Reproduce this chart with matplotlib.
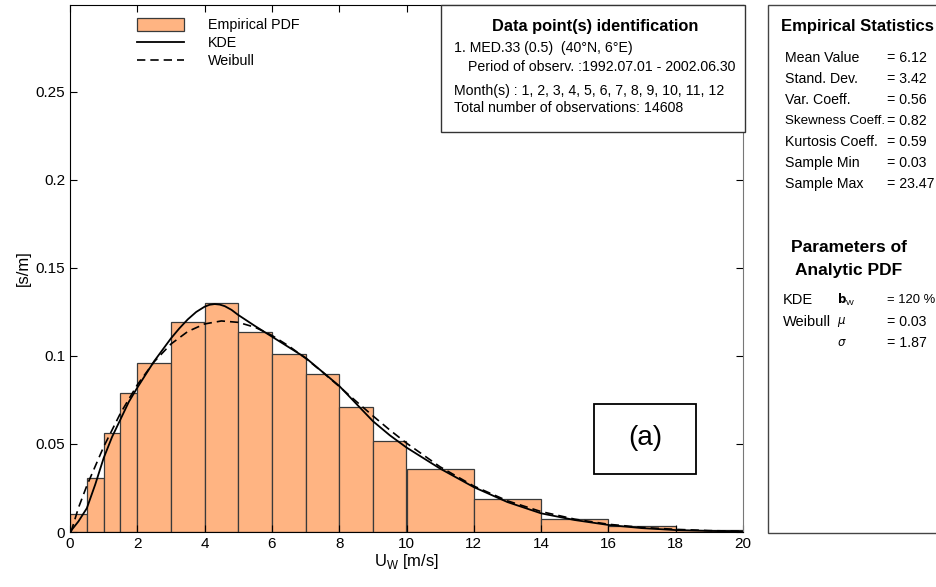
import matplotlib
matplotlib.use("Agg")
import matplotlib.pyplot as plt
from matplotlib.patches import Rectangle
import numpy as np

plt.rcParams['font.family'] = ['Liberation Sans', 'DejaVu Sans']

# histogram (empirical pdf)
bin_edges = [0, 0.5, 1, 1.5, 2, 3, 4, 5, 6, 7, 8, 9, 10, 12, 14, 16, 18, 20]
pdf_vals = [0.0102, 0.0305, 0.056, 0.0788, 0.0958, 0.1193, 0.130, 0.1134,
            0.1013, 0.0898, 0.0712, 0.0519, 0.0356, 0.0186, 0.0076, 0.0034, 0.0009]

# KDE curve
kde_x = [0, 0.25, 0.5, 0.75, 1.0, 1.25, 1.5, 1.75, 2.0, 2.5, 3.0, 3.25, 3.5, 3.75,
         4.0, 4.15, 4.3, 4.45, 4.6, 4.8, 5.0, 5.5, 6.0, 6.5, 7.0, 7.5, 8.0, 8.5,
         9.0, 9.5, 10, 10.5, 11, 12, 13, 14, 15, 16, 17, 18, 19, 20]
kde_y = [0, 0.006, 0.0135, 0.027, 0.042, 0.054, 0.064, 0.074, 0.082, 0.097,
         0.110, 0.1157, 0.1208, 0.1250, 0.1280, 0.1291, 0.1295, 0.1292, 0.1283,
         0.1262, 0.1233, 0.117, 0.111, 0.105, 0.099, 0.091, 0.083, 0.073,
         0.063, 0.055, 0.048, 0.042, 0.036, 0.0255, 0.017, 0.0106, 0.0068,
         0.004, 0.0022, 0.0011, 0.0006, 0.0003]

# Weibull curve
wb_x = [0.03, 0.25, 0.5, 1.0, 1.5, 2.0, 2.5, 3.0, 3.5, 4.0, 4.5, 5.0, 5.5, 6.0,
        6.5, 7.0, 7.5, 8.0, 8.5, 9.0, 9.5, 10, 11, 12, 13, 14, 15, 16, 17, 18, 19, 20]
wb_y = [0, 0.0137, 0.0263, 0.0484, 0.0675, 0.0836, 0.0967, 0.1068, 0.1139,
        0.1182, 0.1199, 0.1191, 0.1163, 0.1117, 0.1057, 0.0987, 0.0909, 0.0827,
        0.0743, 0.0660, 0.0580, 0.0505, 0.0370, 0.0261, 0.0177, 0.0116, 0.0073,
        0.0044, 0.0026, 0.0015, 0.0008, 0.0004]

yticks = [0, 0.05, 0.1, 0.15, 0.2, 0.25]
ytick_labels = ['0', '0.05', '0.1', '0.15', '0.2', '0.25']
xticks = list(range(0, 21, 2))

stats_names = ['Mean Value', 'Stand. Dev.', 'Var. Coeff.', 'Skewness Coeff.',
               'Kurtosis Coeff.', 'Sample Min', 'Sample Max']
stats_vals = ['= 6.12', '= 3.42', '= 0.56', '= 0.82', '= 0.59', '= 0.03', '= 23.47']

W, H = 936, 587
fig = plt.figure(figsize=(9.36, 5.87), dpi=100)
ax = fig.add_axes([70/W, 55/H, 673/W, 527/H])

edges = np.array(bin_edges)
bars = ax.bar(edges[:-1], pdf_vals, width=np.diff(edges), align='edge',
              color='#FFB482', edgecolor='#3a3a3a', linewidth=0.9, label='Empirical PDF')
kde_line, = ax.plot(kde_x, kde_y, color='black', lw=1.3, label='KDE')
wb_line, = ax.plot(wb_x, wb_y, color='black', lw=1.2, ls=(0, (5, 3)), label='Weibull')

ax.set_xlim(0, 20)
ax.set_ylim(0, 0.2994)
ax.set_xticks(xticks)
ax.set_yticks(yticks)
ax.set_yticklabels(ytick_labels)
ax.tick_params(direction='in', length=5, top=True, right=True, labelsize=11)
ax.set_xlabel(r'U$_\mathregular{W}$ [m/s]', fontsize=12, labelpad=1)
ax.set_ylabel('[s/m]', fontsize=12, labelpad=3)
ax.spines['right'].set_color('#777777')

ax.legend(handles=[bars, kde_line, wb_line], loc='upper left',
          bbox_to_anchor=(0.076, 1.005), frameon=False,
          fontsize=10.3, handlelength=3.3, handleheight=1.0, labelspacing=0.25,
          handletextpad=1.65, borderpad=0.6)

# "(a)" box
ax.add_patch(Rectangle((15.57, 0.033), 3.03, 0.0397, fc='white', ec='black', lw=1.3, zorder=5))
ax.text(17.09, 0.0535, '(a)', fontsize=20, ha='center', va='center', zorder=6)

# data point identification box
fig.patches.append(Rectangle((441/W, 455/H), 304/W, 127/H, transform=fig.transFigure,
                             fc='white', ec='#333333', lw=1, zorder=3))
fig.text(595/W, 1 - 27/H, 'Data point(s) identification', ha='center', va='center',
         fontsize=11.8, fontweight='bold', zorder=4)
lines = [(454, 48, '1. MED.33 (0.5)  (40°N, 6°E)'),
         (468, 67, 'Period of observ. :1992.07.01 - 2002.06.30'),
         (454, 91, 'Month(s) : 1, 2, 3, 4, 5, 6, 7, 8, 9, 10, 11, 12'),
         (454, 108, 'Total number of observations: 14608')]
for x, y, s in lines:
    fig.text(x/W, 1 - y/H, s, ha='left', va='center', fontsize=10.2, zorder=4)

# right statistics panel
fig.patches.append(Rectangle((768/W, 54/H), 0.3, 528/H, transform=fig.transFigure,
                             fc='white', ec='#444444', lw=1, zorder=3))
fig.text(781/W, 1 - 27/H, 'Empirical Statistics', ha='left', va='center',
         fontsize=12, fontweight='bold', zorder=4)
for i, (n, v) in enumerate(zip(stats_names, stats_vals)):
    y = 58 + i * 21
    fs = 9.6 if n.startswith('Skew') else 10.2
    fig.text(785/W, 1 - y/H, n, ha='left', va='center', fontsize=fs, zorder=4)
    fig.text(887/W, 1 - y/H, v, ha='left', va='center', fontsize=10.2, zorder=4)
fig.text(849/W, 1 - 248/H, 'Parameters of', ha='center', va='center',
         fontsize=12.5, fontweight='bold', zorder=4)
fig.text(849/W, 1 - 270/H, 'Analytic PDF', ha='center', va='center',
         fontsize=12.5, fontweight='bold', zorder=4)
params = [(300, 'KDE', r'$\mathbf{b}_\mathregular{W}$', '= 120 %'),
          (322, 'Weibull', r'$\mu$', '= 0.03'),
          (343, '', r'$\sigma$', '= 1.87')]
for y, a, b, c in params:
    fig.text(783/W, 1 - y/H, a, ha='left', va='center', fontsize=10.5, zorder=4)
    fig.text(837/W, 1 - y/H, b, ha='left', va='center', fontsize=8.5, zorder=4)
    fs = 9.4 if '%' in c else 10.2
    fig.text(887/W, 1 - y/H, c, ha='left', va='center', fontsize=fs, zorder=4)

fig.savefig('out.png', dpi=100)
